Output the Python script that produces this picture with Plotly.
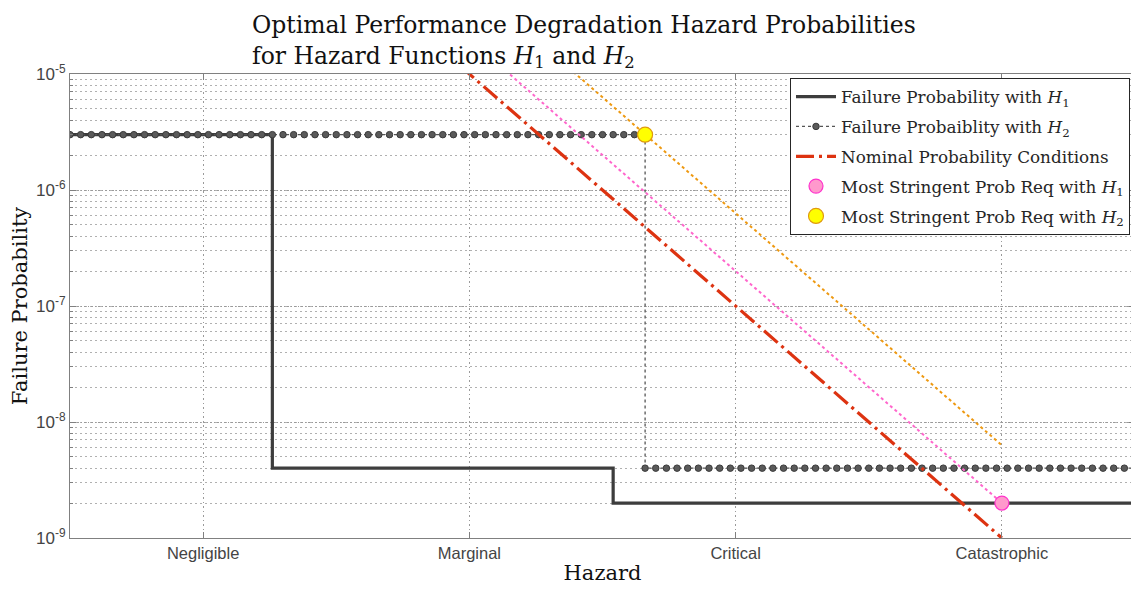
import numpy as np
import plotly.graph_objects as go

# ---------------- data ----------------
categories = ["Negligible", "Marginal", "Critical", "Catastrophic"]
cat_pos = [1, 2, 3, 4]

# step functions (break points on the hazard axis, level on each step)
h1_breaks = [0.5, 1.26, 2.54, 4.5]
h1_levels = [3e-6, 4e-9, 2e-9]

h2_breaks = [0.5, 2.66, 4.5]
h2_levels = [3e-6, 4e-9]
h2_sample_step = 0.04

# straight (log-linear) reference lines
nominal_x = [1, 2, 3, 4]
nominal_y = [1e-3, 1e-5, 1e-7, 1e-9]

pink_x = [2, 3, 4]
pink_y = [2e-5, 2e-7, 2e-9]

orange_x = [2, 3, 4]
orange_y = [6.3e-5, 6.3e-7, 6.3e-9]

# most stringent points
req1_x, req1_y = [4], [2e-9]
req2_x, req2_y = [2.66], [3e-6]

y_ticks = [1e-9, 1e-8, 1e-7, 1e-6, 1e-5]
y_ticktext = ["10<sup>-9</sup>", "10<sup>-8</sup>", "10<sup>-7</sup>",
              "10<sup>-6</sup>", "10<sup>-5</sup>"]

# ---------------- build step paths ----------------
def step_path(breaks, levels):
    xs, ys = [], []
    for i, lv in enumerate(levels):
        xs += [breaks[i], breaks[i + 1]]
        ys += [lv, lv]
    return xs, ys

h1_x, h1_y = step_path(h1_breaks, h1_levels)

h2_x, h2_y = [], []
for i, lv in enumerate(h2_levels):
    a, b = h2_breaks[i], h2_breaks[i + 1]
    n = int(round((b - a) / h2_sample_step)) + 1
    xs = list(np.linspace(a, b, n))
    h2_x += xs
    h2_y += [lv] * len(xs)

SERIF = "DejaVu Serif"
SANS = "Liberation Sans"

fig = go.Figure()

fig.add_trace(go.Scatter(
    x=h1_x, y=h1_y, mode="lines",
    line=dict(color="#3d3d3d", width=3.2),
    name="Failure Probability with <i>H</i><sub>1</sub>",
    legendgroup="a"))

fig.add_trace(go.Scatter(
    x=h2_x, y=h2_y, mode="lines+markers",
    line=dict(color="#555555", width=1.3, dash="dot"),
    marker=dict(symbol="circle", size=6.5, color="#5a5a5a",
                line=dict(color="#3a3a3a", width=1)),
    name="Failure Probaiblity with <i>H</i><sub>2</sub>",
    legendgroup="b"))

fig.add_trace(go.Scatter(
    x=nominal_x, y=nominal_y, mode="lines",
    line=dict(color="#dd3311", width=3.2, dash="18px,5px,3px,5px"),
    name="Nominal Probability Conditions",
    legendgroup="c"))

fig.add_trace(go.Scatter(
    x=pink_x, y=pink_y, mode="lines",
    line=dict(color="#ff66cc", width=2, dash="dot"),
    showlegend=False))

fig.add_trace(go.Scatter(
    x=orange_x, y=orange_y, mode="lines",
    line=dict(color="#ee9911", width=2, dash="dot"),
    showlegend=False))

fig.add_trace(go.Scatter(
    x=req1_x, y=req1_y, mode="markers",
    marker=dict(symbol="circle", size=14, color="#ff99cc",
                line=dict(color="#ff33cc", width=1.2)),
    name="Most Stringent Prob Req with <i>H</i><sub>1</sub>",
    legendgroup="d", cliponaxis=False))

fig.add_trace(go.Scatter(
    x=req2_x, y=req2_y, mode="markers",
    marker=dict(symbol="circle", size=15, color="#ffff00",
                line=dict(color="#e09a10", width=1.2)),
    name="Most Stringent Prob Req with <i>H</i><sub>2</sub>",
    legendgroup="e", cliponaxis=False))

grid_major = "#9a9a9a"
grid_minor = "#b0b0b0"
axis_col = "#808080"

# the page body has an 8px margin, so the figure is shrunk/shifted by 8px
fig.update_layout(
    width=1131, height=584,
    margin=dict(l=62, r=4, t=66, b=54),
    paper_bgcolor="white", plot_bgcolor="white",
    showlegend=True,
    legend=dict(
        x=0.9953, y=0.991, xanchor="right", yanchor="top",
        bgcolor="white", bordercolor="#262626", borderwidth=1,
        font=dict(family=SERIF, size=16.8, color="#262626"),
        traceorder="grouped", tracegroupgap=5,
        itemwidth=40),
    xaxis=dict(
        range=[0.5, 4.5], tickmode="array", tickvals=cat_pos,
        ticktext=categories, showgrid=True, gridcolor=grid_major,
        griddash="1.5px,3px", gridwidth=1, zeroline=False,
        ticks="inside", ticklen=6, tickcolor=axis_col,
        showline=True, linecolor=axis_col, linewidth=1, mirror="ticks",
        tickfont=dict(family=SANS, size=16.5, color="#444444"),
        title=dict(text="Hazard", font=dict(family=SERIF, size=21, color="#111111"),
                   standoff=4)),
    yaxis=dict(
        type="log", range=[-9, -5], tickmode="array", tickvals=y_ticks,
        ticktext=y_ticktext, showgrid=True, gridcolor=grid_major,
        griddash="1.5px,2px", gridwidth=1, zeroline=False,
        ticks="inside", ticklen=6, tickcolor=axis_col,
        showline=True, linecolor=axis_col, linewidth=1, mirror="ticks",
        tickfont=dict(family=SANS, size=17, color="#444444"),
        minor=dict(dtick="D1", showgrid=True, gridcolor=grid_minor,
                   griddash="1.5px,3.5px", gridwidth=1, ticks="inside", ticklen=3,
                   tickcolor=axis_col),
        title=dict(text="Failure Probability",
                   font=dict(family=SERIF, size=21, color="#111111"),
                   standoff=6)),
)

fig.add_annotation(
    xref="paper", yref="paper", x=(250 - 70) / 1065, y=1 + 65 / 464,
    xanchor="left", yanchor="top", align="left", showarrow=False,
    text="Optimal Performance Degradation Hazard Probabilities<br>"
         "for Hazard Functions <i>H</i><sub>1</sub> and <i>H</i><sub>2</sub>",
    font=dict(family=SERIF, size=23.5, color="#111111"))

fig.write_html("out.html")
